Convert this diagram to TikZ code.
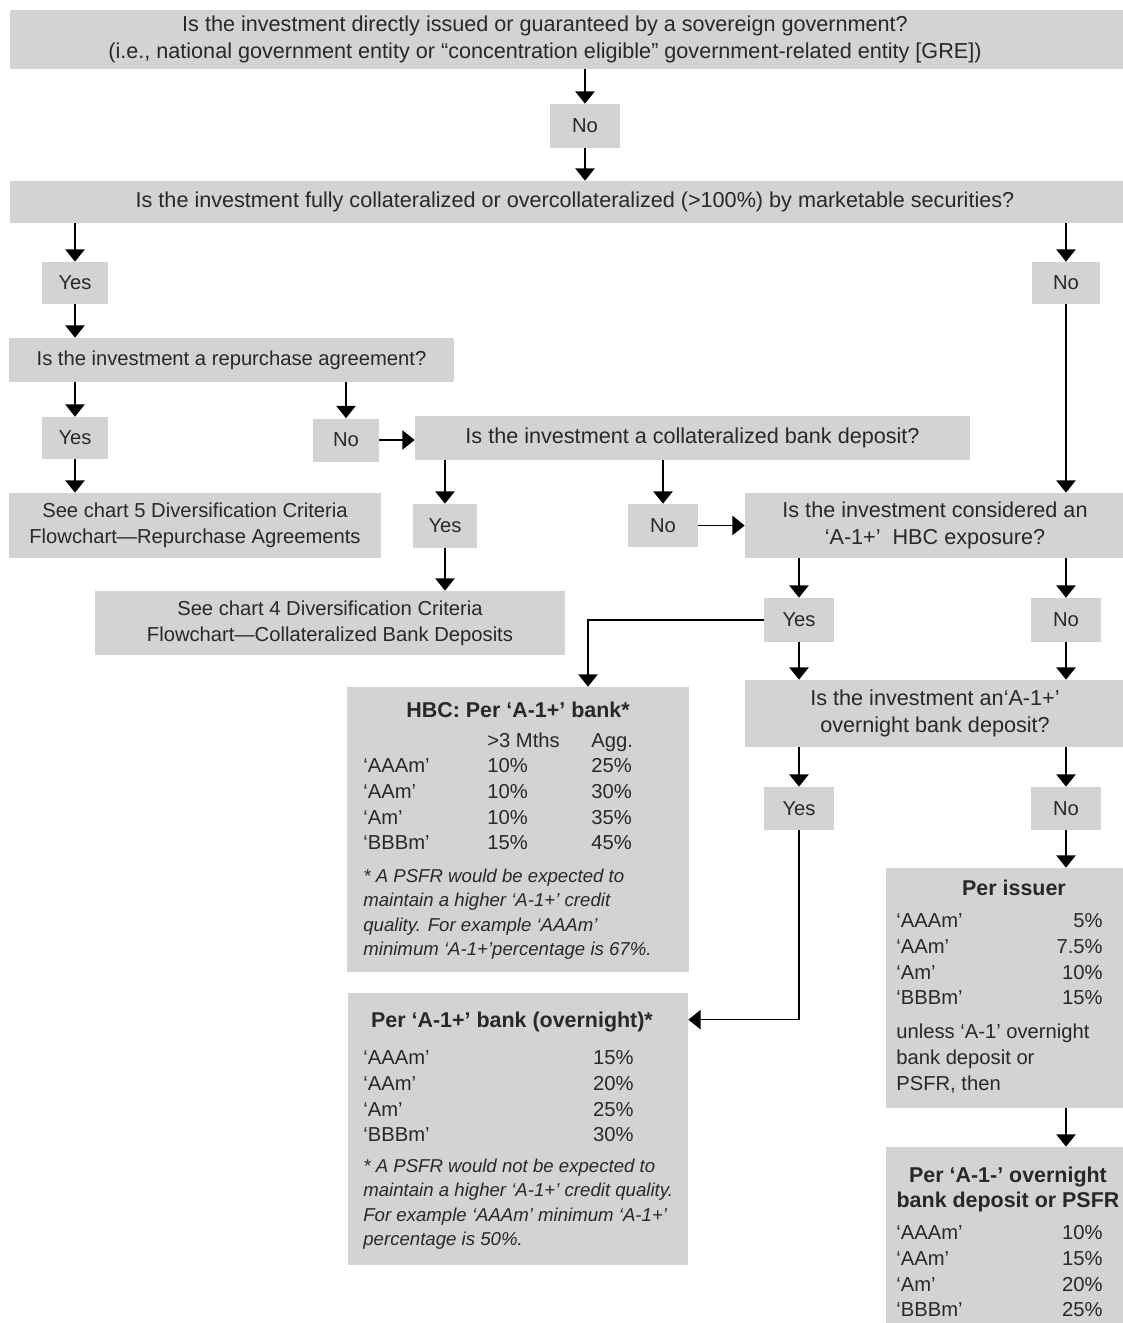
\documentclass[tikz,border=0pt]{standalone}
\usepackage{fontspec}
\setmainfont{Liberation Sans}
\usetikzlibrary{arrows.meta}

\definecolor{boxgray}{RGB}{212,211,212}
\definecolor{ink}{RGB}{40,40,40}
\newcommand\flowtxt{\fontsize{11.5}{14.6}\selectfont}
\newcommand\flowbig{\fontsize{12.3}{15}\selectfont}
\newcommand\flownote{\fontsize{10.6}{13.9}\selectfont\itshape}

\tikzset{
  box/.style={fill=boxgray, inner sep=0pt, text=ink, font=\flowtxt, align=center},
  ask/.style={box, font=\flowbig},
  wh/.style 2 args={minimum width={#1*0.02cm}, minimum height={#2*0.02cm}},
  lbl/.style={inner sep=0pt, text=ink, font=\flowtxt},
  ttl/.style={lbl, font=\fontsize{12.2}{15}\selectfont\bfseries},
  fnote/.style={lbl, font=\flownote},
  flow/.style={-{Triangle[width=11pt,length=7pt]}, line width=0.85pt, black},
}

\begin{document}
\begin{tikzpicture}[x=0.02cm,y=-0.02cm]
  \useasboundingbox (0,0) rectangle (1123,1323);

  % questions and answers
  \node[box, wh={1130}{59}] (q1) at (575,39.5) {};
  \node[lbl, font=\flowbig, align=center] (q1t) at (545,39.5) {Is the investment directly issued or guaranteed by a sovereign government?\\(i.e., national government entity or “concentration eligible” government-related entity [GRE])};
  \node[box, wh={70}{44}] (no1) at (585,126) {No};
  \node[ask, wh={1130}{42}] (q2) at (575,202) {Is the investment fully collateralized or overcollateralized (>100\%) by marketable securities?};
  \node[box, wh={66}{42}] (yes1) at (75,283) {Yes};
  \node[box, wh={68}{42}] (no2) at (1066,283) {No};
  \node[box, wh={445}{44}] (q3) at (231.5,360) {Is the investment a repurchase agreement?};
  \node[box, wh={66}{42}] (yes2) at (75,438) {Yes};
  \node[box, wh={66}{43}] (no3) at (346,440) {No};
  \node[ask, wh={555}{44}] (q4) at (692.5,438) {Is the investment a collateralized bank deposit?};
  \node[box, wh={372}{65}] (see5) at (195,525.5) {See chart 5 Diversification Criteria\\Flowchart—Repurchase Agreements};
  \node[box, wh={64}{44}] (yes3) at (445,526) {Yes};
  \node[box, wh={70}{43}] (no4) at (663,525.5) {No};
  \node[ask, wh={380}{65}] (q5) at (935,525.5) {Is the investment considered an\\‘A-1+’~ HBC exposure?};
  \node[box, wh={470}{64}] (see4) at (330,623) {See chart 4 Diversification Criteria\\Flowchart—Collateralized Bank Deposits};
  \node[box, wh={70}{44}] (yes4) at (799,620) {Yes};
  \node[box, wh={70}{44}] (no5) at (1066,620) {No};
  \node[ask, wh={380}{67}] (q6) at (935,713.5) {Is the investment an‘A-1+’\\overnight bank deposit?};
  \node[box, wh={70}{43}] (yes5) at (799,808.5) {Yes};
  \node[box, wh={70}{43}] (no6) at (1066,808.5) {No};

  % limit boxes
  \node[box, wh={342}{285}] (hbc) at (518,829.5) {};
  \node[box, wh={340}{272}] (ovn) at (518,1129) {};
  \node[box, wh={256}{240}] (iss) at (1014,988) {};
  \node[box, wh={244}{200}] (psfr) at (1008,1247) {};

  % HBC: per A-1+ bank
  \node[ttl, anchor=base] (hbct) at (518,717) {HBC: Per ‘A-1+’ bank*};
  \node[lbl, anchor=base west] (hbcm) at (487,747) {>3 Mths};
  \node[lbl, anchor=base west] (hbca) at (591,747) {Agg.};
  \foreach \r/\m/\a [count=\i] in {‘AAAm’/10/25, ‘AAm’/10/30, ‘Am’/10/35, ‘BBBm’/15/45} {
    \node[lbl, anchor=base west] (hbcr\i) at (363,{747+25.7*\i}) {\r};
    \node[lbl, anchor=base west] (hbcm\i) at (487,{747+25.7*\i}) {\m\%};
    \node[lbl, anchor=base west] (hbca\i) at (591,{747+25.7*\i}) {\a\%};
  }
  \foreach \t [count=\i] in {* A PSFR would be expected to, maintain a higher ‘A-1+’ credit, quality. For example ‘AAAm’, minimum ‘A-1+’percentage is 67\%.} {
    \node[fnote, anchor=base west] (hbcn\i) at (363,{882+24.5*(\i-1)}) {\t};
  }

  % per A-1+ bank overnight
  \node[ttl, anchor=base] (ovnt) at (512,1027) {Per ‘A-1+’ bank (overnight)*};
  \foreach \r/\p [count=\i] in {‘AAAm’/15, ‘AAm’/20, ‘Am’/25, ‘BBBm’/30} {
    \node[lbl, anchor=base west] (ovnr\i) at (363,{1039+25.7*\i}) {\r};
    \node[lbl, anchor=base east] (ovnp\i) at (634,{1039+25.7*\i}) {\p\%};
  }
  \foreach \t [count=\i] in {* A PSFR would not be expected to, maintain a higher ‘A-1+’ credit quality., For example ‘AAAm’ minimum ‘A-1+’, percentage is 50\%.} {
    \node[fnote, anchor=base west] (ovnn\i) at (363,{1172+24.5*(\i-1)}) {\t};
  }

  % per issuer
  \node[ttl, anchor=base] (isst) at (1014,895) {Per issuer};
  \foreach \r/\p [count=\i] in {‘AAAm’/5, ‘AAm’/7.5, ‘Am’/10, ‘BBBm’/15} {
    \node[lbl, anchor=base west] (issr\i) at (896,{902+25.7*\i}) {\r};
    \node[lbl, anchor=base east] (issp\i) at (1103,{902+25.7*\i}) {\p\%};
  }
  \foreach \t [count=\i] in {unless ‘A-1’ overnight, bank deposit or, {PSFR, then}} {
    \node[lbl, anchor=base west] (issn\i) at (896,{1038+26*(\i-1)}) {\t};
  }

  % per A-1- overnight deposit or PSFR
  \node[ttl, anchor=base] (psfrt) at (1008,1182) {Per ‘A-1-’ overnight};
  \node[ttl, anchor=base] (psfru) at (1008,1207) {bank deposit or PSFR};
  \foreach \r/\p [count=\i] in {‘AAAm’/10, ‘AAm’/15, ‘Am’/20, ‘BBBm’/25} {
    \node[lbl, anchor=base west] (psfrr\i) at (896,{1214+25.7*\i}) {\r};
    \node[lbl, anchor=base east] (psfrp\i) at (1103,{1214+25.7*\i}) {\p\%};
  }

  % connectors
  \draw[flow] (q1.south -| no1) -- (no1);
  \draw[flow] (no1) -- (no1 |- q2.north);
  \draw[flow] (q2.south -| yes1) -- (yes1);
  \draw[flow] (q2.south -| no2) -- (no2);
  \draw[flow] (yes1) -- (yes1 |- q3.north);
  \draw[flow] (q3.south -| yes2) -- (yes2);
  \draw[flow] (q3.south -| no3) -- (no3);
  \draw[flow] (no3) -- (no3 -| q4.west);
  \draw[flow] (yes2) -- (yes2 |- see5.north);
  \draw[flow] (q4.south -| yes3) -- (yes3);
  \draw[flow] (q4.south -| no4) -- (no4);
  \draw[flow] (no4) -- (no4 -| q5.west);
  \draw[flow] (no2) -- (no2 |- q5.north);
  \draw[flow] (yes3) -- (yes3 |- see4.north);
  \draw[flow] (q5.south -| yes4) -- (yes4);
  \draw[flow] (q5.south -| no5) -- (no5);
  \draw[flow] (yes4) -- (yes4 |- q6.north);
  \draw[flow] (no5) -- (no5 |- q6.north);
  \draw[flow] (yes4.west) -| ([xshift=1.4cm]hbc.north);
  \draw[flow] (q6.south -| yes5) -- (yes5);
  \draw[flow] (q6.south -| no6) -- (no6);
  \draw[flow] (yes5) |- ([yshift=-0.54cm]ovn.north east);
  \draw[flow] (no6) -- (no6 |- iss.north);
  \draw[flow] (iss.south -| no6) -- (no6 |- psfr.north);
\end{tikzpicture}
\end{document}
